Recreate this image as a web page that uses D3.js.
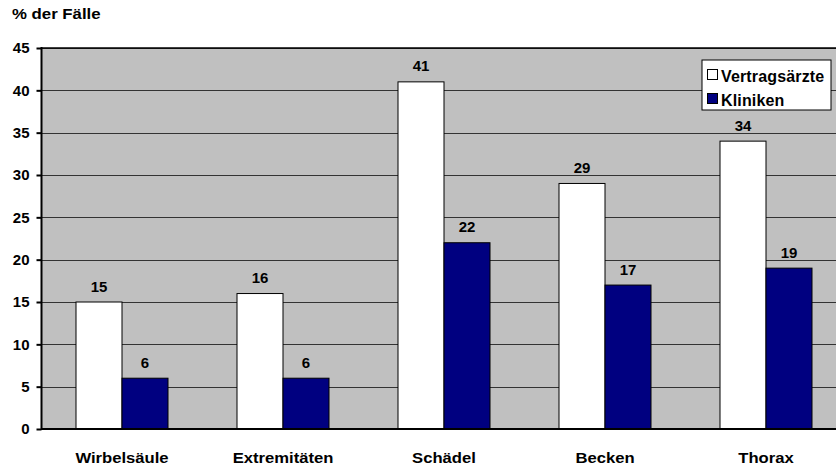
<!DOCTYPE html>
<html><head><meta charset="utf-8">
<script src="https://cdn.jsdelivr.net/npm/d3@7/dist/d3.min.js"></script>
<style>body{margin:0;background:#fff}svg text{font-family:"Liberation Sans",Arial,sans-serif;font-weight:bold;fill:#000}</style>
</head><body><svg id="c" width="836" height="465"></svg>
<script>
const categories = ["Wirbelsäule","Extremitäten","Schädel","Becken","Thorax"];
const seriesNames = ["Vertragsärzte","Kliniken"];
const vertragsaerzte = [15,16,41,29,34];
const kliniken = [6,6,22,17,19];
const yTicks = [0,5,10,15,20,25,30,35,40,45];
const colors = ["#FFFFFF","#000080"];

const svg = d3.select("#c");
const L=41.5, R=846.5, T=48, B=429;
const FF = "'Liberation Sans',Arial,sans-serif";
const x = d3.scaleBand().domain(categories).range([L,R]).paddingInner(0).paddingOuter(0);
const y = d3.scaleLinear().domain([0,45]).range([B,T]);
const sub = d3.scaleBand().domain(seriesNames).range([0,92]);
const bw = sub.bandwidth();

svg.append("rect").attr("x",L).attr("y",T).attr("width",R-L).attr("height",B-T).attr("fill","#C0C0C0");
svg.append("g").selectAll("line").data(yTicks.filter(d=>d>0)).join("line")
  .attr("x1",L).attr("x2",R).attr("y1",d=>Math.round(y(d))+0.5).attr("y2",d=>Math.round(y(d))+0.5).attr("stroke","#333").attr("stroke-width",1);

const data = categories.map((c,i)=>({c, vals:[vertragsaerzte[i],kliniken[i]]}));
const g = svg.append("g").selectAll("g").data(data).join("g")
  .attr("transform",d=>`translate(${x(d.c)+x.bandwidth()/2-bw},0)`);
g.selectAll("rect").data(d=>d.vals.map((v,j)=>({v,s:seriesNames[j],j}))).join("rect")
  .attr("x",d=>sub(d.s)).attr("width",bw).attr("y",d=>y(d.v)).attr("height",d=>B-y(d.v))
  .attr("fill",d=>colors[d.j]).attr("stroke","#000").attr("stroke-width",1);
g.selectAll("text").data(d=>d.vals.map((v,j)=>({v,s:seriesNames[j]}))).join("text")
  .attr("x",d=>sub(d.s)+bw/2).attr("y",d=>y(d.v)-10.5).attr("text-anchor","middle")
  .attr("font-size","15px").text(d=>d.v);

// axes
const ya = svg.append("g").attr("transform",`translate(${L},0)`)
  .call(d3.axisLeft(y).tickValues(yTicks).tickSize(5).tickPadding(7));
ya.select(".domain").remove();
ya.selectAll(".tick line").attr("stroke","#000").attr("stroke-width",2);
ya.selectAll(".tick text").attr("font-size","15px").attr("font-family",FF).attr("font-weight","bold");
svg.append("line").attr("x1",L).attr("x2",L).attr("y1",T-1).attr("y2",B+1).attr("stroke","#000").attr("stroke-width",2);
svg.append("line").attr("x1",L).attr("x2",R).attr("y1",B).attr("y2",B).attr("stroke","#000").attr("stroke-width",2);
svg.append("line").attr("x1",L).attr("x2",R).attr("y1",T).attr("y2",T).attr("stroke","#000").attr("stroke-width",1.5);

const xa = svg.append("g").attr("transform",`translate(0,${B})`)
  .call(d3.axisBottom(x).tickSize(0).tickPadding(23));
xa.select(".domain").remove();
xa.selectAll(".tick text").attr("font-size","15px").attr("font-family",FF).attr("font-weight","bold")
  .attr("transform","scale(1.11,1)");

svg.append("g").attr("transform","translate(12,19) scale(1.12,1)")
  .append("text").attr("font-size","15px").text("% der Fälle");

// legend
const lg = svg.append("g").attr("transform","translate(702,60)");
lg.append("rect").attr("width",129).attr("height",50).attr("fill","#fff").attr("stroke","#000").attr("stroke-width",1);
seriesNames.forEach((s,i)=>{
  lg.append("rect").attr("x",5.5).attr("y",9.5+i*24).attr("width",10).attr("height",10).attr("fill",colors[i]).attr("stroke","#000");
  lg.append("text").attr("x",19).attr("y",22+i*24).attr("font-size","16px").attr("letter-spacing","0.15px").text(s);
});
</script></body></html>
